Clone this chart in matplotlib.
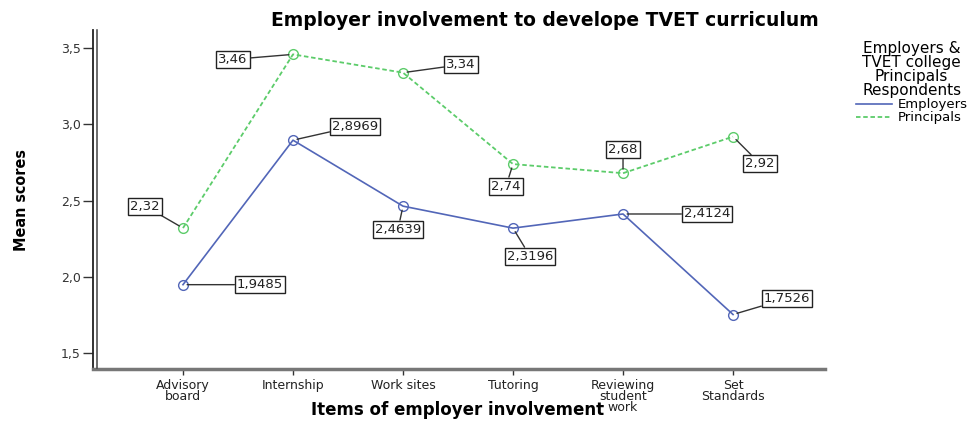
import matplotlib
matplotlib.use("Agg")
import matplotlib.pyplot as plt
from matplotlib.lines import Line2D

categories = ["Advisory\nboard", "Internship", "Work sites", "Tutoring",
              "Reviewing\nstudent\nwork", "Set\nStandards"]
employers = [1.9485, 2.8969, 2.4639, 2.3196, 2.4124, 1.7526]
principals = [2.32, 3.46, 3.34, 2.74, 2.68, 2.92]
employer_labels = ["1,9485", "2,8969", "2,4639", "2,3196", "2,4124", "1,7526"]
principal_labels = ["2,32", "3,46", "3,34", "2,74", "2,68", "2,92"]
yticks = [1.5, 2.0, 2.5, 3.0, 3.5]
ytick_labels = ["1,5", "2,0", "2,5", "3,0", "3,5"]

emp_color = "#5266b8"
pri_color = "#5ccc6a"
pri_dash = (0, (2.5, 1.5))

fig = plt.figure(figsize=(9.77, 4.28), dpi=100)
ax = fig.add_axes([93 / 977, 1 - 369 / 428, (825 - 93) / 977, (369 - 30) / 428])

x = list(range(len(categories)))
ax.plot(x, employers, color=emp_color, lw=1.2, marker="o", ms=7,
        mfc="none", mec=emp_color, mew=1.0)
ax.plot(x, principals, color=pri_color, lw=1.3, ls=pri_dash, marker="o",
        ms=7, mfc="none", mec=pri_color, mew=1.0)

ax.set_xlim(-0.818, 5.836)
ax.set_ylim(1.395, 3.62)
ax.set_xticks(x)
ax.set_xticklabels(categories, fontsize=9, color="#222222", linespacing=0.8)
ax.set_yticks(yticks)
ax.set_yticklabels(ytick_labels, fontsize=9, color="#333333")
ax.tick_params(axis="y", direction="out", length=7, width=1, color="#333333", pad=2)
ax.tick_params(axis="x", direction="out", length=4, width=1, color="#333333", pad=3)

for side in ("top", "right"):
    ax.spines[side].set_visible(False)
ax.spines["left"].set_color("#222222")
ax.spines["left"].set_linewidth(1.3)
ax.spines["bottom"].set_color("#777777")
ax.spines["bottom"].set_linewidth(2.5)

# second rule next to the left axis
fig.add_artist(Line2D([96.5 / 977, 96.5 / 977], [1 - 368 / 428, 1 - 30 / 428],
                      transform=fig.transFigure, color="#444444", lw=1.1))

box = dict(boxstyle="square,pad=0.15", fc="white", ec="#222222", lw=1.0)
arrow = dict(arrowstyle="-", color="#333333", lw=1.0, shrinkA=0, shrinkB=3)

emp_offsets = [(77, 0), (62, 14), (-5, -23), (17, -28), (84, 0), (54, 16)]
pri_offsets = [(-38, 22), (-60, -5), (58, 8), (-7, -22), (0, 24), (27, -27)]

for i in x:
    ax.annotate(employer_labels[i], (i, employers[i]), xytext=emp_offsets[i],
                textcoords="offset pixels", ha="center", va="center",
                fontsize=9.5, color="#222222", bbox=box, arrowprops=arrow)
    ax.annotate(principal_labels[i], (i, principals[i]), xytext=pri_offsets[i],
                textcoords="offset pixels", ha="center", va="center",
                fontsize=9.5, color="#222222", bbox=box, arrowprops=arrow)

fig.text(545 / 977, 1 - 20 / 428, "Employer involvement to develope TVET curriculum",
         ha="center", va="center", fontsize=13.5, fontweight="bold")
fig.text(458 / 977, 1 - 410 / 428, "Items of employer involvement",
         ha="center", va="center", fontsize=12, fontweight="bold")
fig.text(22 / 977, 1 - 200 / 428, "Mean scores", ha="center", va="center",
         rotation=90, fontsize=11.5, fontweight="bold", fontstretch="condensed",
         family="DejaVu Sans")

handles = [Line2D([], [], color=emp_color, lw=1.2),
           Line2D([], [], color=pri_color, lw=1.3, ls=pri_dash)]
leg = fig.legend(handles, ["Employers", "Principals"], loc="upper right",
                 bbox_to_anchor=(1.0, 1 - 32 / 428), frameon=False,
                 title="Employers &\nTVET college\nPrincipals\nRespondents",
                 fontsize=9.5, title_fontsize=11, handlelength=2.8,
                 handletextpad=0.4, labelspacing=0.0, borderpad=0.2)
leg.get_title().set_multialignment("center")
leg.get_title().set_linespacing(0.92)

fig.savefig("out.png", dpi=100)
